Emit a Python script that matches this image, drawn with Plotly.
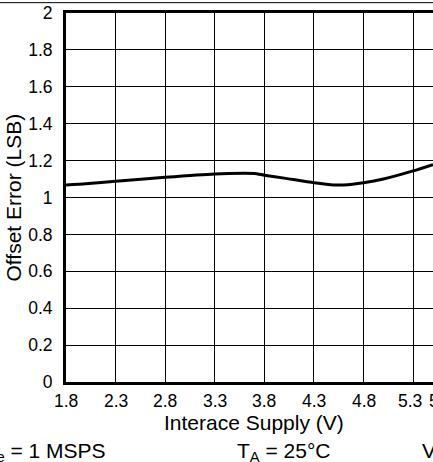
import plotly.graph_objects as go

# Offset error vs interface supply voltage
supply_v = [1.8, 2.0, 2.3, 2.8, 3.3, 3.6, 3.7, 3.8, 4.0, 4.3, 4.5, 4.6, 4.8, 5.0, 5.3, 5.5]
offset_lsb = [1.068, 1.074, 1.088, 1.110, 1.128, 1.131, 1.130, 1.121, 1.105, 1.080,
              1.068, 1.068, 1.080, 1.100, 1.144, 1.178]

x_tick_vals = [1.8, 2.3, 2.8, 3.3, 3.8, 4.3, 4.8, 5.3, 5.5]
x_tick_text = ["1.8", "2.3", "2.8", "3.3", "3.8", "4.3", "4.8", "5.3", "5.5"]
y_tick_vals = [0, 0.2, 0.4, 0.6, 0.8, 1.0, 1.2, 1.4, 1.6, 1.8, 2.0]
y_tick_text = ["0", "0.2", "0.4", "0.6", "0.8", "1", "1.2", "1.4", "1.6", "1.8", "2"]

x_title = "Interace Supply (V)"
y_title = "Offset Error (LSB)"
conditions = ["f<sub>Sample</sub> = 1 MSPS", "T<sub>A</sub> = 25°C", "V<sub>DD</sub> = 5 V"]

FONT = "Arial, Liberation Sans, sans-serif"
TICK_SIZE = 17.5
TITLE_SIZE = 21

fig = go.Figure()
fig.add_trace(go.Scatter(
    x=supply_v, y=offset_lsb, mode="lines",
    line=dict(color="black", width=3, shape="spline", smoothing=0.6),
    hoverinfo="skip",
))

# x tick labels drawn as annotations so the crowded last pair can be nudged apart
label_shift = {"5.3": -3, "5.5": 8}
for v, t in zip(x_tick_vals, x_tick_text):
    fig.add_annotation(x=v, y=0, xref="x", yref="paper", text=t, showarrow=False,
                       xanchor="center", yanchor="top", yshift=-7,
                       xshift=label_shift.get(t, 0),
                       font=dict(family=FONT, size=TICK_SIZE, color="black"))

fig.add_annotation(x=0.5136, y=-0.111, xref="paper", yref="paper", text=x_title,
                   showarrow=False, xanchor="center", yanchor="middle",
                   font=dict(family=FONT, size=TITLE_SIZE, color="black"))
fig.add_annotation(x=-0.1417, y=0.5, xref="paper", yref="paper", text=y_title,
                   textangle=-90, showarrow=False, xanchor="center", yanchor="middle",
                   font=dict(family=FONT, size=TITLE_SIZE, color="black"))

# test-condition line beneath the plot
fig.add_annotation(x=0.1144, y=-0.19, xref="paper", yref="paper", text=conditions[0],
                   showarrow=False, xanchor="right", yanchor="middle",
                   font=dict(family=FONT, size=TITLE_SIZE, color="black"))
fig.add_annotation(x=0.4605, y=-0.19, xref="paper", yref="paper", text=conditions[1],
                   showarrow=False, xanchor="left", yanchor="middle",
                   font=dict(family=FONT, size=TITLE_SIZE, color="black"))
fig.add_annotation(x=0.9646, y=-0.19, xref="paper", yref="paper", text=conditions[2],
                   showarrow=False, xanchor="left", yanchor="middle",
                   font=dict(family=FONT, size=TITLE_SIZE, color="black"))

# thin frame rule above the chart
fig.add_shape(type="line", xref="paper", yref="paper", x0=-0.3, x1=1.2,
              y0=1.028, y1=1.028, line=dict(color="black", width=1))

fig.update_xaxes(range=[1.8, 5.5], tickvals=x_tick_vals, showticklabels=False,
                 showgrid=True, gridcolor="black", gridwidth=1, zeroline=False,
                 showline=True, linecolor="black", linewidth=3, mirror=True, ticks="")
fig.update_yaxes(range=[0, 2], tickvals=y_tick_vals, ticktext=y_tick_text,
                 showgrid=True, gridcolor="black", gridwidth=1, zeroline=False,
                 showline=True, linecolor="black", linewidth=3, mirror=False,
                 ticks="", ticklabelstandoff=7,
                 tickfont=dict(family=FONT, size=TICK_SIZE, color="black"))

fig.update_layout(
    width=433, height=462,
    margin=dict(l=66, r=0, t=13, b=80),
    paper_bgcolor="white", plot_bgcolor="white",
    showlegend=False,
    font=dict(family=FONT, color="black"),
)

fig.write_html("out.html")
